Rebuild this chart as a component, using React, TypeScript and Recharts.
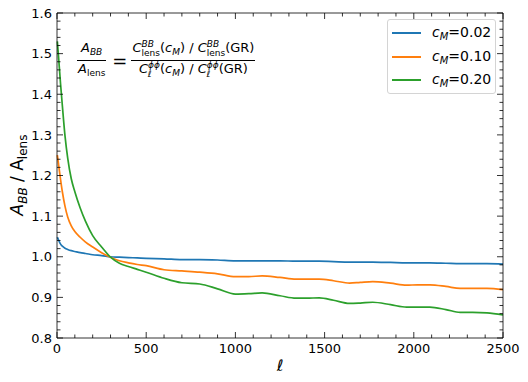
import React from 'react'
import { LineChart, Line, XAxis, YAxis } from 'recharts'

// multipole values and the three ratio curves
const ells = [2, 10, 20, 30, 45, 60, 80, 100, 130, 160, 200, 250, 300, 350, 400, 450, 500, 600, 700, 800, 900, 1000, 1075, 1150, 1250, 1340, 1400, 1470, 1550, 1640, 1700, 1770, 1870, 1960, 2020, 2090, 2180, 2260, 2330, 2410, 2500]
const cm002 = [1.048, 1.04, 1.031, 1.026, 1.021, 1.018, 1.015, 1.013, 1.01, 1.008, 1.005, 1.003, 1.0, 0.999, 0.998, 0.997, 0.996, 0.995, 0.993, 0.993, 0.992, 0.99, 0.99, 0.99, 0.99, 0.989, 0.989, 0.989, 0.988, 0.987, 0.987, 0.987, 0.986, 0.985, 0.985, 0.985, 0.984, 0.983, 0.983, 0.983, 0.982]
const cm010 = [1.25, 1.223, 1.19, 1.16, 1.124, 1.098, 1.076, 1.062, 1.048, 1.036, 1.024, 1.01, 0.999, 0.99, 0.985, 0.981, 0.978, 0.968, 0.965, 0.962, 0.958, 0.951, 0.951, 0.953, 0.949, 0.945, 0.945, 0.945, 0.941, 0.935, 0.937, 0.939, 0.935, 0.93, 0.931, 0.931, 0.927, 0.922, 0.922, 0.922, 0.919]
const cm020 = [1.53, 1.484, 1.425, 1.372, 1.297, 1.243, 1.192, 1.16, 1.12, 1.087, 1.052, 1.024, 0.999, 0.984, 0.976, 0.969, 0.962, 0.947, 0.936, 0.933, 0.921, 0.908, 0.909, 0.911, 0.904, 0.898, 0.898, 0.899, 0.893, 0.885, 0.886, 0.888, 0.882, 0.876, 0.876, 0.876, 0.87, 0.863, 0.863, 0.862, 0.857]

const seriesKeys = ['c002', 'c010', 'c020']
const seriesNames = ['0.02', '0.10', '0.20']
const seriesColors = ['#1f77b4', '#ff7f0e', '#2ca02c']

const xTicks = [0, 100, 200, 300, 400, 500, 600, 700, 800, 900, 1000, 1100, 1200, 1300, 1400, 1500, 1600, 1700, 1800, 1900, 2000, 2100, 2200, 2300, 2400, 2500]
const yTicks = [0.8, 0.82, 0.84, 0.86, 0.88, 0.9, 0.92, 0.94, 0.96, 0.98, 1.0, 1.02, 1.04, 1.06, 1.08, 1.1, 1.12, 1.14, 1.16, 1.18, 1.2, 1.22, 1.24, 1.26, 1.28, 1.3, 1.32, 1.34, 1.36, 1.38, 1.4, 1.42, 1.44, 1.46, 1.48, 1.5, 1.52, 1.54, 1.56, 1.58, 1.6]

const data = ells.map((l, i) => ({ ell: l, c002: cm002[i], c010: cm010[i], c020: cm020[i] }))

const FONT = '"DejaVu Sans", sans-serif'
const isMajorX = (v: number) => v % 500 === 0
const isMajorY = (v: number) => Math.abs(v * 10 - Math.round(v * 10)) < 1e-6

const BottomTick = (props: any) => {
  const { x, y, payload } = props
  const major = isMajorX(payload.value)
  return (
    <g>
      <line x1={x} x2={x} y1={y} y2={y - (major ? 6 : 3.5)} stroke="#000" strokeWidth={0.8} />
      {major && (
        <text x={x} y={y + 15} textAnchor="middle" fontSize={13} fontFamily={FONT} fill="#000">
          {payload.value}
        </text>
      )}
    </g>
  )
}

const TopTick = (props: any) => {
  const { x, y, payload } = props
  const major = isMajorX(payload.value)
  return <line x1={x} x2={x} y1={y} y2={y + (major ? 6 : 3.5)} stroke="#000" strokeWidth={0.8} />
}

const LeftTick = (props: any) => {
  const { x, y, payload } = props
  const major = isMajorY(payload.value)
  return (
    <g>
      <line x1={x} x2={x + (major ? 6 : 3.5)} y1={y} y2={y} stroke="#000" strokeWidth={0.8} />
      {major && (
        <text x={x - 5} y={y} dy="0.36em" textAnchor="end" fontSize={13} fontFamily={FONT} fill="#000">
          {payload.value.toFixed(1)}
        </text>
      )}
    </g>
  )
}

const RightTick = (props: any) => {
  const { x, y, payload } = props
  const major = isMajorY(payload.value)
  return <line x1={x} x2={x - (major ? 6 : 3.5)} y1={y} y2={y} stroke="#000" strokeWidth={0.8} />
}

const Frac = ({ num, den }: { num: React.ReactNode; den: React.ReactNode }) => (
  <span style={{ display: 'inline-flex', flexDirection: 'column', alignItems: 'center', verticalAlign: 'middle' }}>
    <span style={{ lineHeight: '15px', padding: '0 1px' }}>{num}</span>
    <span style={{ borderTop: '1px solid #000', alignSelf: 'stretch' }} />
    <span style={{ lineHeight: '15px', padding: '0 1px' }}>{den}</span>
  </span>
)

const sub = (t: string, italic = false) => (
  <span style={{ fontSize: 9, verticalAlign: '-3px', fontStyle: italic ? 'italic' : 'normal' }}>{t}</span>
)

const stack = (sup: string, lower: string) => (
  <span style={{ display: 'inline-flex', flexDirection: 'column', fontSize: 9, lineHeight: '9px', verticalAlign: '5px' }}>
    <i>{sup}</i>
    <span style={{ fontStyle: lower === 'ℓ' ? 'italic' : 'normal' }}>{lower}</span>
  </span>
)

export default function App() {
  return (
    <div style={{ position: 'absolute', left: 0, top: 0, width: 528, height: 382, background: '#fff' }}>
      <LineChart width={528} height={382} data={data} margin={{ top: 12, right: 24, bottom: 0, left: 0 }}>
        <XAxis
          dataKey="ell"
          type="number"
          domain={[0, 2500]}
          ticks={xTicks}
          interval={0}
          tickSize={0}
          tickMargin={0}
          tickLine={false}
          tick={BottomTick}
          axisLine={{ stroke: '#000', strokeWidth: 0.8 }}
          height={44}
          label={{
            content: () => (
              <text x={280} y={371} textAnchor="middle" fontSize={16} fontStyle="italic" fontFamily={FONT} fill="#000">
                ℓ
              </text>
            ),
          }}
        />
        <XAxis
          xAxisId="top"
          orientation="top"
          dataKey="ell"
          type="number"
          domain={[0, 2500]}
          ticks={xTicks}
          interval={0}
          tickSize={0}
          tickMargin={0}
          tickLine={false}
          tick={TopTick}
          axisLine={{ stroke: '#000', strokeWidth: 0.8 }}
          height={1}
        />
        <YAxis
          type="number"
          domain={[0.8, 1.6]}
          ticks={yTicks}
          interval={0}
          tickSize={0}
          tickMargin={0}
          tickLine={false}
          tick={LeftTick}
          axisLine={{ stroke: '#000', strokeWidth: 0.8 }}
          width={57}
          allowDataOverflow
          label={{
            content: () => (
              <text transform="rotate(-90, 23, 175)" x={23} y={175} textAnchor="middle" fontSize={17} fontFamily={FONT} fill="#000">
                <tspan fontStyle="italic">A</tspan>
                <tspan fontStyle="italic" fontSize={12} dy={4}>BB</tspan>
                <tspan dy={-4}> / A</tspan>
                <tspan fontSize={12} dy={4}>lens</tspan>
              </text>
            ),
          }}
        />
        <YAxis
          yAxisId="right"
          orientation="right"
          type="number"
          domain={[0.8, 1.6]}
          ticks={yTicks}
          interval={0}
          tickSize={0}
          tickMargin={0}
          tickLine={false}
          tick={RightTick}
          axisLine={{ stroke: '#000', strokeWidth: 0.8 }}
          width={1}
          allowDataOverflow
        />
        <Line xAxisId="top" yAxisId="right" dataKey="c002" stroke="none" dot={false} isAnimationActive={false} />
        {seriesKeys.map((k, i) => (
          <Line key={k} type="monotone" dataKey={k} stroke={seriesColors[i]} strokeWidth={1.7} dot={false} isAnimationActive={false} />
        ))}
      </LineChart>

      <div style={{ position: 'absolute', left: 77, top: 40, fontFamily: FONT, fontSize: 13, color: '#000', display: 'flex', alignItems: 'center', whiteSpace: 'nowrap' }}>
        <Frac num={<><i>A</i>{sub('BB', true)}</>} den={<><i>A</i>{sub('lens')}</>} />
        <span style={{ fontSize: 18, margin: '0 4px 0 6px' }}>=</span>
        <Frac
          num={<><i>C</i>{stack('BB', 'lens')}(<i>c</i>{sub('M', true)}) / <i>C</i>{stack('BB', 'lens')}(GR)</>}
          den={<><i>C</i>{stack('ϕϕ', 'ℓ')}(<i>c</i>{sub('M', true)}) / <i>C</i>{stack('ϕϕ', 'ℓ')}(GR)</>}
        />
      </div>

      <div style={{ position: 'absolute', left: 387, top: 19, width: 107, height: 73, border: '1px solid #d4d4d4', borderRadius: 3, background: 'rgba(255,255,255,0.8)', fontFamily: FONT, fontSize: 14, color: '#000' }}>
        {seriesNames.map((n, i) => (
          <div key={n} style={{ position: 'absolute', left: 4, top: 4 + i * 23.5, height: 18, display: 'flex', alignItems: 'center' }}>
            <span style={{ display: 'inline-block', width: 29, height: 2, background: seriesColors[i], marginRight: 11 }} />
            <span>
              <i>c</i>
              <span style={{ fontSize: 10, fontStyle: 'italic', verticalAlign: '-3px' }}>M</span>=
              {n}
            </span>
          </div>
        ))}
      </div>
    </div>
  )
}
